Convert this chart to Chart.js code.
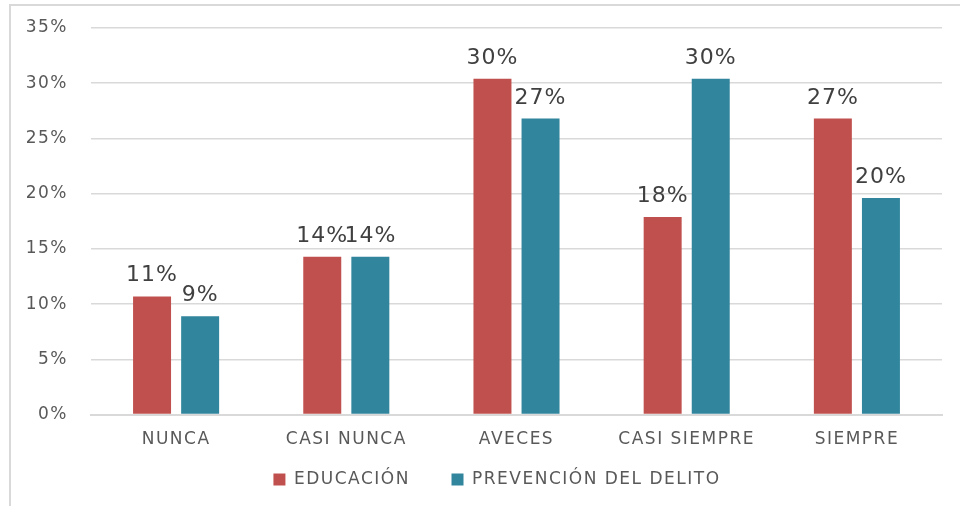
<!DOCTYPE html>
<html>
<head>
<meta charset="utf-8">
<script src="https://cdn.jsdelivr.net/npm/chart.js@4/dist/chart.umd.min.js"></script>
<style>
  html, body { margin: 0; padding: 0; background: #fff; }
  #wrap { position: relative; width: 960px; height: 506px; overflow: hidden; }
  #frame { position: absolute; left: 9px; top: 4px; width: 1000px; height: 600px;
           border-left: 2px solid #d9d9d9; border-top: 2px solid #d9d9d9; }
  canvas { position: absolute; left: 0; top: 0; }
</style>
</head>
<body>
<div id="wrap">
  <div id="frame"></div>
  <canvas id="chart" width="960" height="506"></canvas>
</div>
<script>
// categories and series (percent values)
const categories = ['NUNCA', 'CASI NUNCA', 'AVECES', 'CASI SIEMPRE', 'SIEMPRE'];
const educacion = [10.7, 14.3, 30.4, 17.9, 26.8];
const prevencion = [8.9, 14.3, 26.8, 30.4, 19.6];
const seriesNames = ['EDUCACIÓN', 'PREVENCIÓN DEL DELITO'];

const FONT = '"DejaVu Sans", Verdana, sans-serif';
const SPACING = '1.5px';
const LEGEND_SHIFT = 21;

// wider text, the original screenshot is stretched
const spacingPlugin = {
  id: 'spacing',
  beforeUpdate(chart) { chart.ctx.letterSpacing = SPACING; },
  beforeDraw(chart) { chart.ctx.letterSpacing = SPACING; },
  afterLayout(chart) {
    // move the legend a little right, like the original
    chart.legend.left += LEGEND_SHIFT;
    chart.legend.right += LEGEND_SHIFT;
  }
};

// value labels above each bar
const barLabels = {
  id: 'barLabels',
  afterDatasetsDraw(chart) {
    const ctx = chart.ctx;
    ctx.save();
    ctx.font = '22px ' + FONT;
    ctx.letterSpacing = '1px';
    ctx.fillStyle = '#404040';
    ctx.textAlign = 'center';
    ctx.textBaseline = 'alphabetic';
    chart.data.datasets.forEach((ds, i) => {
      chart.getDatasetMeta(i).data.forEach((bar, j) => {
        ctx.fillText(Math.round(ds.data[j]) + '%', bar.x, bar.y - 15);
      });
    });
    ctx.restore();
  }
};

new Chart(document.getElementById('chart'), {
  type: 'bar',
  data: {
    labels: categories,
    datasets: [{
      label: seriesNames[0],
      data: educacion,
      backgroundColor: '#C0504D'
    },
    {
      label: seriesNames[1],
      data: prevencion,
      backgroundColor: '#31859C'
    }]
  },
  options: {
    responsive: false,
    animation: false,
    layout: { padding: { left: 10, right: 18, top: 28, bottom: 8 } },
    datasets: { bar: { categoryPercentage: 0.565, barPercentage: 0.79 } },
    plugins: {
      legend: {
        position: 'bottom',
        labels: {
          boxWidth: 12, boxHeight: 12, padding: 14,
          color: '#595959',
          font: { family: FONT, size: 17 },
          generateLabels(chart) {
            const items = Chart.defaults.plugins.legend.labels.generateLabels(chart);
            items[0].text += '    ';
            return items;
          }
        }
      },
      tooltip: { enabled: false }
    },
    scales: {
      x: {
        grid: { display: false },
        border: { color: '#d9d9d9', width: 2 },
        ticks: { color: '#595959', padding: 7, font: { family: FONT, size: 17 } }
      },
      y: {
        min: 0, max: 35,
        afterFit(scale) {
          scale.width = 81;
          scale.paddingTop = 0;
        },
        border: { display: false },
        grid: { color: '#d9d9d9', lineWidth: 1.5, drawTicks: false },
        ticks: {
          stepSize: 5, padding: 23, color: '#595959',
          font: { family: FONT, size: 17 },
          callback: v => v + '%'
        }
      }
    }
  },
  plugins: [spacingPlugin, barLabels]
});
</script>
</body>
</html>
